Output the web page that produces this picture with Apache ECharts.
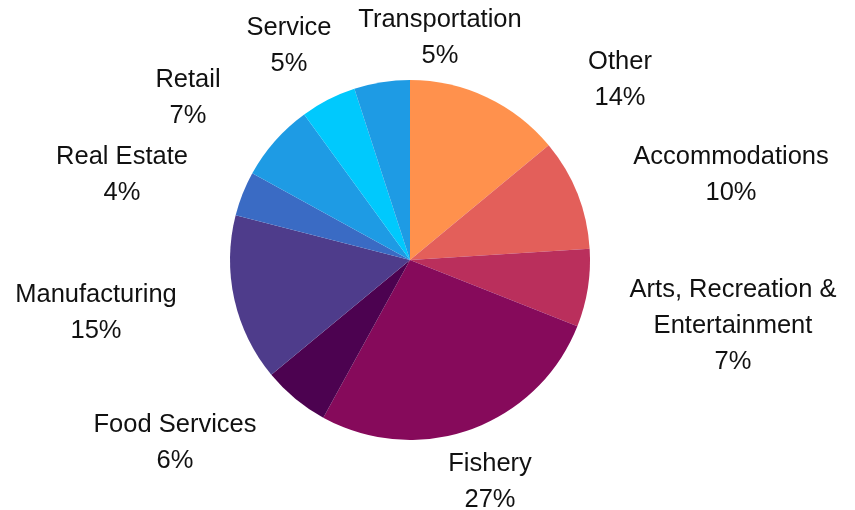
<!DOCTYPE html>
<html>
<head>
<meta charset="utf-8">
<script src="https://cdn.jsdelivr.net/npm/echarts@6/dist/echarts.min.js"></script>
<style>
  html, body { margin: 0; padding: 0; background: #fff; }
</style>
</head>
<body>
<div id="main" style="width: 855px; height: 510px;"></div>
<script>
// categories, clockwise from 12 o'clock
var categories = ['Other', 'Accommodations', 'Arts, Recreation &\nEntertainment', 'Fishery', 'Food Services',
  'Manufacturing', 'Real Estate', 'Retail', 'Service', 'Transportation']
// share of each category (%)
var shares = [14, 10, 7, 27, 6, 15, 4, 7, 5, 5]

var colors = ['#FF914D', '#E35F5A', '#BA2F5C', '#860A5B', '#4C0250',
  '#4E3C8B', '#3A6BC4', '#1E9BE4', '#00C9FD', '#1E9BE4']
// label centres (px), placed like the original "best fit" labels
var labelPos = [[620, 80], [731, 175], [733, 326], [490, 482], [175, 443],
  [96, 313], [122, 175], [188, 98], [289, 46], [440, 38]]

var myChart = echarts.init(document.getElementById('main'))
myChart.setOption({
  animation: false,
  series: [
    {
      type: 'pie',
      center: [410, 260],
      radius: 180,
      startAngle: 90,
      clockwise: true,
      avoidLabelOverlap: false,
      itemStyle: { borderWidth: 0 },
      label: {
        show: true,
        position: 'outside',
        color: '#111',
        fontFamily: 'Liberation Sans, Arial, sans-serif',
        fontSize: 25.5,
        lineHeight: 36,
        formatter: function (p) {
          return p.name + '\n' + Math.round(p.percent) + '%'
        }
      },
      labelLine: { show: false },
      labelLayout: function (params) {
        var pos = labelPos[params.dataIndex]
        return { x: pos[0], y: pos[1], align: 'center', verticalAlign: 'middle' }
      },
      data: categories.map(function (name, i) {
        return { name: name, value: shares[i], itemStyle: { color: colors[i] } }
      })
    }
  ]
})
</script>
</body>
</html>
